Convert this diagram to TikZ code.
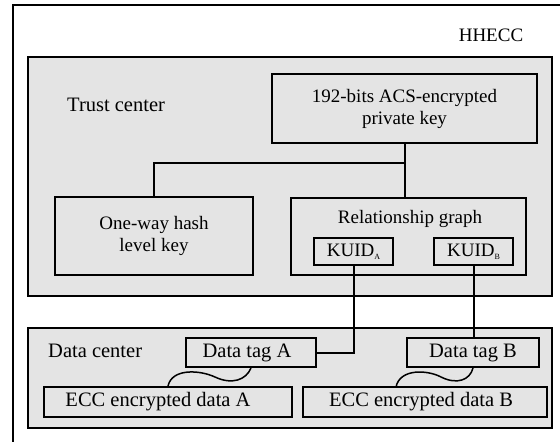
\documentclass[tikz,border=0pt]{standalone}
\usepackage{fontspec}
\setmainfont{Liberation Serif}
\definecolor{panelgray}{HTML}{E4E4E4}
\newcommand\lblfont{\fontsize{19}{22}\selectfont}
\newcommand\biglblfont{\fontsize{20.5}{24}\selectfont}
\newcommand\subidx[1]{\raisebox{-3pt}{\fontsize{8}{8}\selectfont #1}}
\begin{document}
\begin{tikzpicture}[x=1pt,y=-1pt,
  frame/.style={line width=2pt},
  panel/.style={draw, line width=2pt, fill=panelgray, inner sep=0pt},
  box/.style={draw, line width=2pt, fill=panelgray, inner sep=0pt,
              align=center, font=\lblfont},
  databox/.style={box, font=\biglblfont},
  wire/.style={line width=2pt},
  link/.style={line width=1.5pt},
  tag/.style={inner sep=0pt, font=\lblfont}]
\useasboundingbox (0,0) rectangle (560,442);

% open outer frame
\coordinate (frameBL) at (13,442);
\coordinate (frameTL) at (13,5);
\coordinate (frameTR) at (560,5);
\draw[frame] (frameBL) -- (frameTL) -- (frameTR);
\node[tag] (hhecc) at (491,35) {HHECC};

% trust center
\node[panel, minimum width=524pt, minimum height=239pt] (trust) at (290,176.5) {};
\node[tag, anchor=west, font=\biglblfont] (trustlbl) at (67,105) {Trust center};
\node[box, minimum width=265pt, minimum height=69pt] (privkey) at (404.5,108.5)
  {192-bits ACS-encrypted\\private key};
\node[box, minimum width=198pt, minimum height=78pt] (hashkey) at (154,236)
  {One-way hash\\level key};
\node[box, minimum width=235pt, minimum height=77pt] (relgraph) at (408.5,236.5) {};
\node[tag] (rellbl) at (410,219) {Relationship graph};
\node[box, minimum width=79pt, minimum height=27pt] (kuidA) at (353.5,251.5) {KUID\subidx{A}};
\node[box, minimum width=79pt, minimum height=27pt] (kuidB) at (473.5,251.5) {KUID\subidx{B}};

% data center
\node[panel, minimum width=524pt, minimum height=100pt] (data) at (290,378) {};
\node[tag, anchor=west, font=\biglblfont] (datalbl) at (48,351) {Data center};
\node[databox, minimum width=130pt, minimum height=29pt] (tagA) at (251,352.5) {Data tag A\hspace*{8pt}};
\node[databox, minimum width=132pt, minimum height=29pt] (tagB) at (473,352.5) {Data tag B};
\node[databox, minimum width=248pt, minimum height=30pt] (eccA) at (168,402) {ECC encrypted data A\hspace*{20pt}};
\node[databox, minimum width=244pt, minimum height=30pt] (eccB) at (425,402) {ECC encrypted data B\hspace*{8pt}};

% key hierarchy
\coordinate (split) at (privkey.south |- 0,163);
\draw[wire] (privkey.south) -- (privkey.south |- relgraph.north);
\draw[wire] (split) -| (hashkey.north);

% identities to data tags
\draw[wire] (kuidA.south) |- (tagA.east);
\draw[wire] (kuidB.south) -- (kuidB.south |- tagB.north);

% tag-to-data links
\draw[link] (eccA.north) .. controls (172,368) and (200,370) .. (215,377)
  .. controls (232,385) and (246,380) .. (tagA.south);
\coordinate (eccBlink) at (396,387);
\draw[link] (eccBlink) .. controls (400,368) and (428,370) .. (441,377)
  .. controls (457,385) and (470,380) .. (tagB.south);
\end{tikzpicture}
\end{document}
